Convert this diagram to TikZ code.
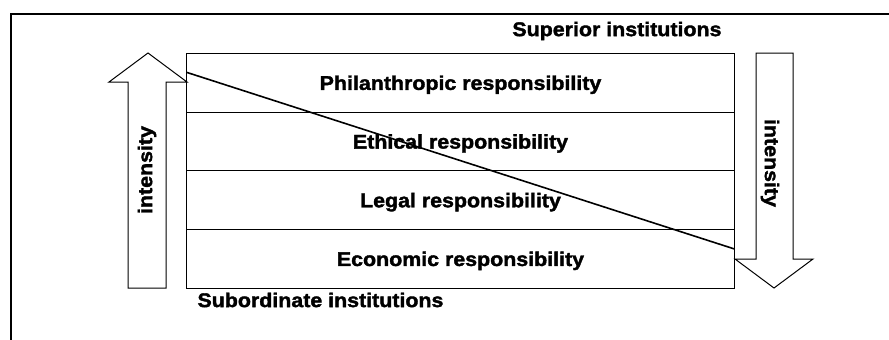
\documentclass[tikz,border=0pt]{standalone}
\usepackage{fontspec}
\setmainfont{Liberation Sans}
\newfontfamily\heavyfont{Liberation Sans}[FakeBold=1.8,FakeStretch=1.08]
\usetikzlibrary{positioning}

\begin{document}
\begin{tikzpicture}
[x=1pt,y=-1pt,line width=1pt,%
  every node/.style={font=\heavyfont\bfseries\fontsize{19.8}{22}\selectfont},%
  layer/.style={rectangle,draw,minimum width=548pt,minimum height=58.7pt,inner sep=0pt,outer sep=0pt,text depth=0pt},%
  bigarrow/.style={draw,line join=miter}]
\useasboundingbox (0,0) rectangle (889,340);
% frame
\draw[line width=1.8pt] (11,340) -- (11,14) -- (889,14);
% responsibility layers
\node[layer] (phil) at (460.5,82.7) {Philanthropic responsibility};
\node[layer,below=0pt of phil] (ethic) {Ethical responsibility};
\node[layer,below=0pt of ethic] (legal) {Legal responsibility};
\node[layer,below=0pt of legal] (econ) {Economic responsibility};
\node[anchor=east,inner sep=0pt] (sup) at (722,31) {Superior institutions};
\node[anchor=west,inner sep=0pt] (sub) at (197,300) {Subordinate institutions};
% intensity arrows
\draw[bigarrow] (128,288) -- (128,82) -- (109,82) -- (148,53) -- (187,82)
  -- (166,82) -- (166,288) -- cycle;
\draw[bigarrow] (756,53) -- (793,53) -- (793,259) -- (813,259) -- (774,288)
  -- (735,259) -- (756,259) -- cycle;
\node[rotate=90] (up) at (147,170) {intensity};
\node[rotate=-90] (down) at (770,163) {intensity};
% diagonal
\coordinate (from) at (phil.west |- 0,72.3);
\coordinate (to) at (econ.east |- 0,249);
\draw[line width=1.6pt] (from) -- (to);
\end{tikzpicture}
\end{document}
